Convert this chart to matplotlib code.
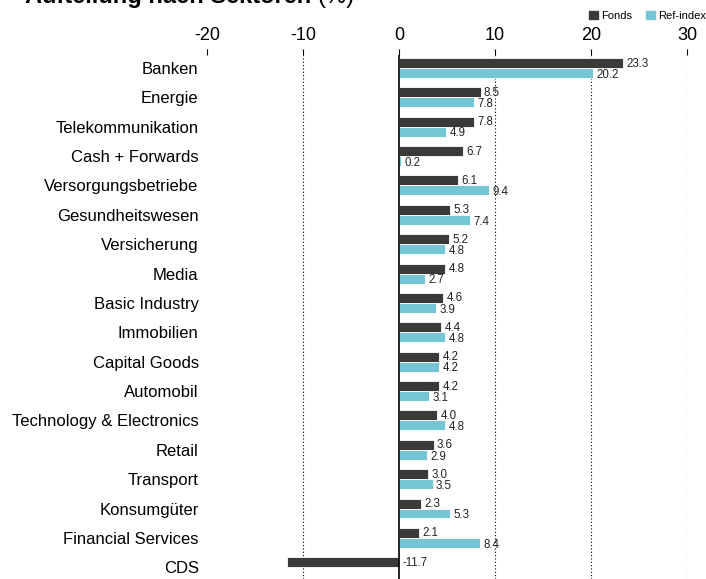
import numpy as np
import matplotlib.pyplot as plt
from matplotlib.patches import Patch

plt.rcParams['font.family'] = ['Liberation Sans', 'DejaVu Sans']

sectors = ["Banken", "Energie", "Telekommunikation", "Cash + Forwards",
           "Versorgungsbetriebe", "Gesundheitswesen", "Versicherung", "Media",
           "Basic Industry", "Immobilien", "Capital Goods", "Automobil",
           "Technology & Electronics", "Retail", "Transport", "Konsumgüter",
           "Financial Services", "CDS"]
fonds = [23.3, 8.5, 7.8, 6.7, 6.1, 5.3, 5.2, 4.8, 4.6, 4.4, 4.2, 4.2, 4.0,
         3.6, 3.0, 2.3, 2.1, -11.7]
ref_index = [20.2, 7.8, 4.9, 0.2, 9.4, 7.4, 4.8, 2.7, 3.9, 4.8, 4.2, 3.1, 4.8,
             2.9, 3.5, 5.3, 8.4, None]
x_ticks = [-20, -10, 0, 10, 20, 30]

dark = "#3a3b39"
light = "#76c5d6"

fig = plt.figure(figsize=(7.06, 5.79), dpi=100)
ax = fig.add_axes([207 / 706, 0, 480 / 706, 1 - 55 / 579])

y = np.arange(len(sectors))
h = 0.34
ax.barh(y - h / 2, fonds, height=h, color=dark, edgecolor="white", linewidth=0.6, zorder=3)
ref_vals = [np.nan if v is None else v for v in ref_index]
ax.barh(y + h / 2, ref_vals, height=h, color=light, edgecolor="white", linewidth=0.6, zorder=3)

# value labels next to the bars
for i, v in enumerate(fonds):
    ax.text(max(v, 0) + 0.35, i - h / 2 + 0.02, f"{v:.1f}", va="center", ha="left",
            fontsize=8.3, color="#222222", zorder=4)
for i, v in enumerate(ref_index):
    if v is None:
        continue
    ax.text(v + 0.35, i + h / 2 + 0.06, f"{v:.1f}", va="center", ha="left",
            fontsize=8.3, color="#222222", zorder=4)

ax.set_xlim(-20, 30)
ax.set_ylim(17.4, -0.44)
ax.set_yticks(y)
ax.set_yticklabels(sectors, fontsize=12)
ax.tick_params(axis="y", length=0, pad=6)
ax.xaxis.tick_top()
ax.set_xticks(x_ticks)
ax.set_xticklabels([str(t) for t in x_ticks], fontsize=13)
ax.tick_params(axis="x", length=4, width=0.8, pad=4, color="black")
for xv in [-10, 10, 20, 30]:
    ax.axvline(xv, color="black", linestyle=(0, (1, 2)), linewidth=0.8, zorder=1)
ax.axvline(0, color="black", linewidth=1.2, zorder=5)
for s in ax.spines.values():
    s.set_visible(False)

# title, cut off at the top like the original
t1 = fig.text(25 / 706, 1.006, "Aufteilung nach Sektoren", fontsize=17,
              fontweight="bold", va="center", ha="left")
fig.canvas.draw()
bb = t1.get_window_extent(fig.canvas.get_renderer())
fig.text((bb.x1 + 6) / 706, 1.006, "(%)", fontsize=17, va="center", ha="left")

handles = [Patch(color=dark, label="Fonds"), Patch(color=light, label="Ref-index")]
fig.legend(handles=handles, loc="center right", bbox_to_anchor=(1.0, 1 - 16 / 579),
           ncol=2, frameon=False, fontsize=8, handlelength=0.8, handleheight=0.8,
           handletextpad=0.3, columnspacing=1.2, borderaxespad=0, borderpad=0)

fig.savefig("out.png", dpi=100)
